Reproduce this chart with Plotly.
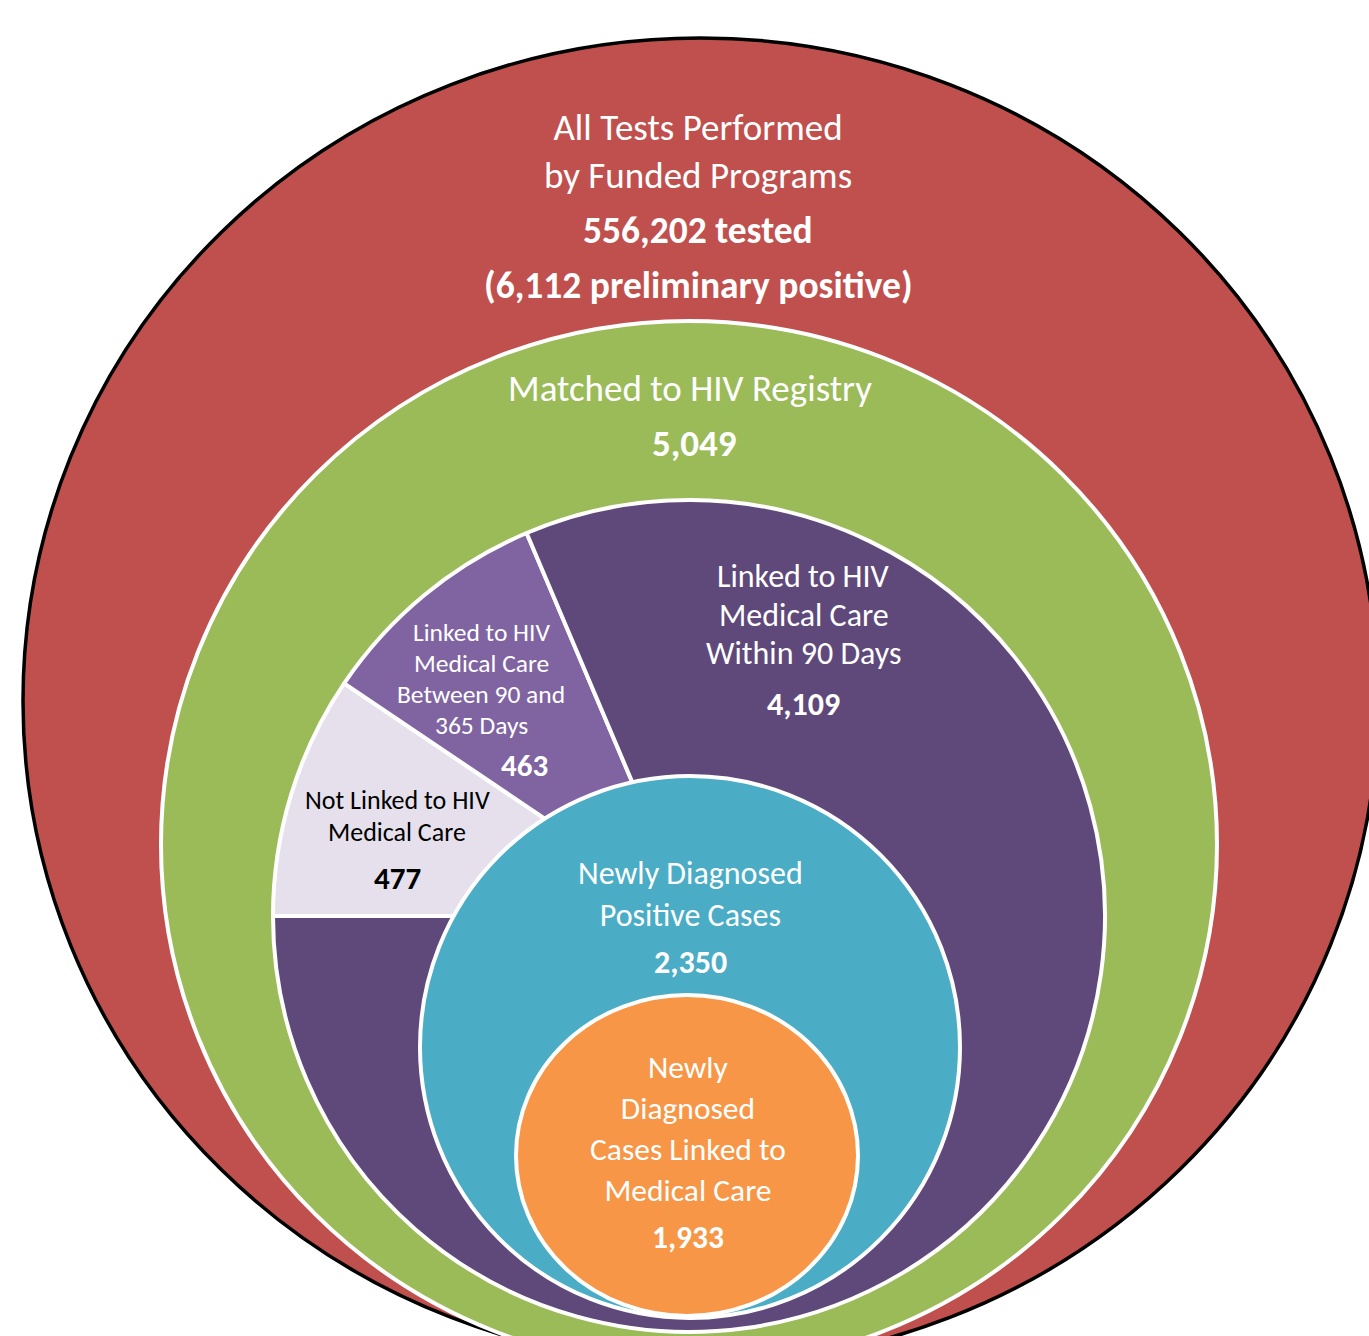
import plotly.graph_objects as go

# ---------------- data ----------------
total_tested = 556202
preliminary_positive = 6112
matched_to_registry = 5049
linkage_categories = [
    "Not Linked to HIV Medical Care",
    "Linked to HIV Medical Care Between 90 and 365 Days",
    "Linked to HIV Medical Care Within 90 Days",
]
linkage_values = [477, 463, 4109]
newly_diagnosed_positive = 2350
newly_diagnosed_linked = 1933

# ---------------- layout helpers ----------------
W, H = 1369, 1336
FONT = "Calibri, Carlito, Lato, sans-serif"

RED = "#C0504D"
GREEN = "#9BBB59"
DARK_PURPLE = "#5F497A"
PURPLE = "#8064A2"
LAVENDER = "#E5E0EC"
TEAL = "#4BACC6"
ORANGE = "#F79646"


def px(x):
    return x / W


def py(y):
    return 1 - y / H


fig = go.Figure()

# linkage pie (drawn from the data)
pie_cx, pie_cy, pie_r = 689, 916, 416
fig.add_trace(go.Pie(
    values=linkage_values,
    labels=linkage_categories,
    sort=False,
    direction="clockwise",
    rotation=-90,
    marker=dict(colors=[LAVENDER, PURPLE, DARK_PURPLE], line=dict(color="white", width=4)),
    textinfo="none",
    hoverinfo="label+value",
    showlegend=False,
    domain=dict(x=[px(pie_cx - pie_r), px(pie_cx + pie_r)],
                y=[py(pie_cy + pie_r), py(pie_cy - pie_r)]),
))

shapes = [
    dict(type="circle", xref="paper", yref="paper", layer="below",
         x0=px(23), x1=px(1378), y0=py(38), y1=py(1364),
         fillcolor=RED, line=dict(color="black", width=3.5)),
    dict(type="circle", xref="paper", yref="paper", layer="below",
         x0=px(161), x1=px(1217), y0=py(321), y1=py(1368),
         fillcolor=GREEN, line=dict(color="white", width=4)),
    dict(type="circle", xref="paper", yref="paper", layer="above",
         x0=px(420), x1=px(960), y0=py(776), y1=py(1318),
         fillcolor=TEAL, line=dict(color="white", width=4)),
    dict(type="circle", xref="paper", yref="paper", layer="above",
         x0=px(516), x1=px(858), y0=py(995), y1=py(1316),
         fillcolor=ORANGE, line=dict(color="white", width=4)),
]

annotations = []


def add_text(lines, ys, x, size, color="white", bold=False):
    for line, y in zip(lines, ys):
        t = f"<b>{line}</b>" if bold else line
        annotations.append(dict(
            text=t, x=px(x), y=py(y), xref="paper", yref="paper",
            xanchor="center", yanchor="middle", showarrow=False,
            font=dict(family=FONT, size=size, color=color),
        ))


def add_block(lines, y, x, size, color="white"):
    annotations.append(dict(
        text="<br>".join(lines), x=px(x), y=py(y), xref="paper", yref="paper",
        xanchor="center", yanchor="middle", showarrow=False, align="center",
        font=dict(family=FONT, size=size, color=color),
    ))


# outer red level
add_block(["All Tests Performed", "by Funded Programs"], 151, 698, 37)
add_text([f"{total_tested:,} tested"], [230], 698, 37.5, bold=True)
add_text([f"({preliminary_positive:,} preliminary positive)"], [285], 698, 37.5, bold=True)

# green level
add_text(["Matched to HIV Registry"], [388], 690, 37)
add_text([f"{matched_to_registry:,}"], [443], 694, 37, bold=True)

# pie slices
add_text(["Linked to HIV", "Medical Care", "Within 90 Days"], [576, 615, 653], 804, 32)
add_text([f"{linkage_values[2]:,}"], [704], 804, 32, bold=True)

add_text(["Linked to HIV", "Medical Care", "Between 90 and", "365 Days"], [632, 663, 694, 725], 481, 25.5)
add_text([f"{linkage_values[1]:,}"], [765], 524, 31, bold=True)

add_text(["Not Linked to HIV", "Medical Care"], [800, 832], 397, 26, color="black")
add_text([f"{linkage_values[0]:,}"], [878], 397, 31, color="black", bold=True)

# teal level
add_block(["Newly Diagnosed", "Positive Cases"], 894, 690, 32)
add_text([f"{newly_diagnosed_positive:,}"], [962], 690, 32, bold=True)

# orange level
add_block(["Newly", "Diagnosed", "Cases Linked to", "Medical Care"], 1128, 688, 31.5)
add_text([f"{newly_diagnosed_linked:,}"], [1237], 688, 31.5, bold=True)

fig.update_layout(
    width=W, height=H,
    margin=dict(l=0, r=0, t=0, b=0, pad=0),
    paper_bgcolor="white", plot_bgcolor="white",
    shapes=shapes, annotations=annotations,
    showlegend=False,
)

fig.write_html("out.html")
